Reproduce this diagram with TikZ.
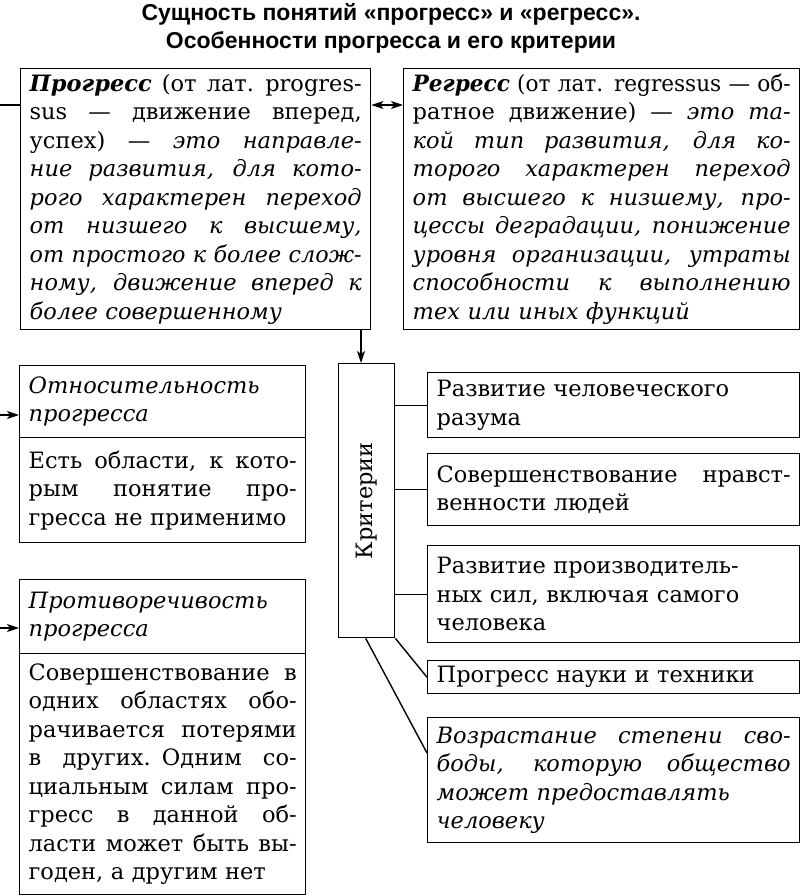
\documentclass[tikz,border=0pt]{standalone}
\usepackage{fontspec}
\usepackage{graphicx}
\setmainfont{DejaVu Serif}
\newfontfamily\titlefont{Liberation Sans}
\usetikzlibrary{arrows.meta,calc}
\newlength\jlw
\newcommand\jl[1]{\settowidth\jlw{#1}%
  \ifdim\jlw>\linewidth\hbox to\linewidth{\resizebox{\linewidth}{\height}{#1}}%
  \else\hbox to\linewidth{\spaceskip=0.3em plus 3em minus 0.12em #1}\fi\par}
\newcommand\lastl[1]{\settowidth\jlw{#1}%
  \ifdim\jlw>\linewidth\hbox to\linewidth{\resizebox{\linewidth}{\height}{#1}}%
  \else\hbox to\linewidth{#1\hfil}\fi\par}
\tikzset{
  box/.style={draw, line width=1.4pt, anchor=north west, inner xsep=9pt, inner ysep=0pt,
     font=\fontsize{22.5}{28.5}\selectfont},
  itbox/.style={box, font=\fontsize{22.5}{28.5}\selectfont\itshape},
  tip/.tip={Stealth[length=12pt,width=8pt,inset=3pt]},
  arr/.style={line width=1.4pt, -tip},
  ln/.style={line width=1.4pt},
}
\begin{document}
\begin{tikzpicture}[x=1pt,y=-1pt]
\useasboundingbox (0,0) rectangle (800,896);
\node[font=\titlefont\bfseries\fontsize{23}{28}\selectfont, align=center] (title) at (391,28)
  {Сущность понятий «прогресс» и «регресс».\\Особенности прогресса и его критерии};

\node[box, minimum width=350, minimum height=261, text width=332] (prog) at (20,68) {%
\jl{\textbf{\textit{Прогресс}} (от лат. progres-}
\jl{sus — движение вперед,}
\jl{успех) — \textit{это направле-}}
\jl{\textit{ние развития, для кото-}}
\jl{\textit{рого характерен переход}}
\jl{\textit{от низшего к высшему,}}
\jl{\textit{от простого к более слож-}}
\jl{\textit{ному, движение вперед к}}
\lastl{\textit{более совершенному}}};

\node[box, minimum width=396, minimum height=261, text width=378] (reg) at (403,68) {%
\jl{\textbf{\textit{Регресс}} (от лат. regressus — об-}
\jl{ратное движение) — \textit{это та-}}
\jl{\textit{кой тип развития, для ко-}}
\jl{\textit{торого характерен переход}}
\jl{\textit{от высшего к низшему, про-}}
\jl{\textit{цессы деградации, понижение}}
\jl{\textit{уровня организации, утраты}}
\jl{\textit{способности к выполнению}}
\lastl{\textit{тех или иных функций}}};

\node[itbox, minimum width=286, minimum height=72, text width=268] (relh) at (19,365) {%
\lastl{Относительность}
\lastl{прогресса}};
\node[box, minimum width=286, minimum height=105, text width=268] (relb) at (19,437) {%
\jl{Есть области, к кото-}
\jl{рым понятие про-}
\lastl{гресса не применимо}};

\node[itbox, minimum width=286, minimum height=74, text width=268] (conh) at (19,579) {%
\lastl{Противоречивость}
\lastl{прогресса}};
\node[box, minimum width=286, minimum height=241, text width=268] (conb) at (19,653) {%
\jl{Совершенствование в}
\jl{одних областях обо-}
\jl{рачивается потерями}
\jl{в других. Одним со-}
\jl{циальным силам про-}
\jl{гресс в данной об-}
\jl{ласти может быть вы-}
\lastl{годен, а другим нет}};

\node[box, minimum width=56, minimum height=274] (crit) at (338,363) {};
\node[rotate=90, font=\fontsize{22.5}{28.5}\selectfont] (critt) at (crit.center) {Критерии};

\node[box, minimum width=372, minimum height=65, text width=354] (r1) at (427,372) {%
\lastl{Развитие человеческого}
\lastl{разума}};
\node[box, minimum width=372, minimum height=72, text width=354] (r2) at (427,453) {%
\jl{Совершенствование нравст-}
\lastl{венности людей}};
\node[box, minimum width=372, minimum height=97, text width=354] (r3) at (427,545) {%
\lastl{Развитие производитель-}
\lastl{ных сил, включая самого}
\lastl{человека}};
\node[box, minimum width=372, minimum height=33, text width=354] (r4) at (427,660) {%
\lastl{Прогресс науки и техники}};
\node[itbox, minimum width=372, minimum height=125, text width=354] (r5) at (427,717) {%
\jl{Возрастание степени сво-}
\jl{боды, которую общество}
\lastl{может предоставлять}
\lastl{человеку}};

% connectors
\coordinate (s1) at (0,105);
\draw[ln] (s1) -- (prog.west |- s1);
\draw[ln, tip-tip] (prog.east |- s1) -- (reg.west |- s1);
\coordinate (ad) at (361,0);
\draw[arr] (prog.south -| ad) -- (crit.north -| ad);
\coordinate (s2) at (0,415);
\draw[arr] (s2) -- (relh.west |- s2);
\coordinate (s3) at (0,628);
\draw[arr] (s3) -- (conh.west |- s3);
\draw[ln] (crit.east |- r1.west) -- (r1.west);
\draw[ln] (crit.east |- r2.west) -- (r2.west);
\draw[ln] (crit.east |- r3.west) -- (r3.west);
\draw[ln] (crit.south east) -- (r4.west);
\coordinate (r5in) at ($(r5.north west)+(0,36)$);
\draw[ln] ([xshift=-1pt]crit.south) -- (r5in);
\end{tikzpicture}
\end{document}
